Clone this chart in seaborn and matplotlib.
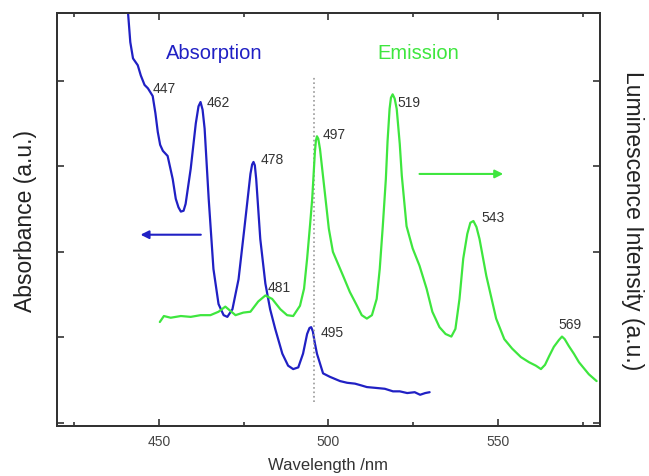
import pandas as pd
import matplotlib
matplotlib.use('Agg')
import matplotlib.pyplot as plt
import seaborn as sns
from matplotlib.ticker import MultipleLocator, NullFormatter

# Absorption spectrum (left axis, a.u.)
abs_nm = [440.6, 440.9, 441.6, 442.4, 443.8, 444.7, 445.8, 446.8, 448.2, 449.0,
          449.7, 450.4, 451.2, 452.6, 454.1, 455.0, 455.8, 456.5, 457.3, 457.9,
          459.4, 460.9, 461.7, 462.3, 462.9, 463.5, 464.7, 466.1, 467.6, 469.1,
          470.2, 471.7, 473.5, 475.2, 477.0, 477.5, 477.9, 478.3, 478.7, 479.9,
          481.4, 482.8, 484.3, 486.4, 488.1, 489.6, 491.1, 492.5, 493.7, 494.4,
          494.9, 495.4, 495.9, 496.6, 498.4, 500.4, 503.4, 505.5, 507.8, 509.6,
          511.3, 514.0, 516.6, 519.0, 521.0, 523.2, 525.4, 527.0, 528.5, 529.8]
abs_val = [5.19, 4.81, 4.45, 4.26, 4.18, 4.06, 3.95, 3.91, 3.82, 3.62,
           3.40, 3.25, 3.18, 3.12, 2.85, 2.62, 2.52, 2.47, 2.48, 2.56,
           2.97, 3.50, 3.70, 3.75, 3.66, 3.44, 2.62, 1.80, 1.39, 1.26,
           1.24, 1.33, 1.68, 2.27, 2.91, 3.02, 3.05, 3.01, 2.85, 2.15,
           1.63, 1.33, 1.10, 0.81, 0.67, 0.63, 0.65, 0.81, 1.04, 1.11,
           1.12, 1.07, 0.95, 0.81, 0.58, 0.54, 0.49, 0.47, 0.46, 0.44,
           0.42, 0.41, 0.40, 0.37, 0.37, 0.35, 0.36, 0.33, 0.35, 0.36]

# Emission spectrum (right axis, a.u.)
em_nm = [450.3, 451.5, 453.5, 456.5, 459.4, 462.3, 465.2, 467.6, 469.6, 471.1,
         472.6, 474.9, 477.0, 479.3, 481.4, 483.4, 485.8, 487.8, 489.6, 491.6,
         492.8, 493.7, 494.6, 495.2, 496.0, 496.3, 496.6, 497.0, 497.5, 498.9,
         500.1, 501.3, 504.3, 506.3, 508.4, 509.8, 511.3, 512.8, 514.2, 515.1,
         516.0, 516.9, 517.4, 518.0, 518.4, 518.9, 519.5, 520.1, 521.0, 521.6,
         523.0, 524.8, 526.8, 528.9, 530.6, 532.7, 534.5, 536.2, 537.4, 538.6,
         539.7, 540.9, 541.8, 542.7, 543.6, 544.5, 546.5, 549.4, 551.8, 554.1,
         556.7, 559.1, 561.1, 562.6, 563.8, 565.0, 566.4, 567.9, 568.8, 569.6,
         570.8, 572.3, 573.8, 576.7, 579.0]
em_val = [1.18, 1.25, 1.23, 1.25, 1.24, 1.26, 1.26, 1.30, 1.36, 1.31,
          1.26, 1.29, 1.30, 1.42, 1.49, 1.45, 1.33, 1.26, 1.25, 1.37,
          1.57, 1.92, 2.33, 2.62, 3.17, 3.30, 3.35, 3.32, 3.20, 2.70,
          2.27, 2.00, 1.72, 1.53, 1.37, 1.26, 1.22, 1.26, 1.45, 1.80,
          2.30, 2.85, 3.29, 3.67, 3.80, 3.84, 3.79, 3.67, 3.26, 2.89,
          2.30, 2.04, 1.84, 1.57, 1.30, 1.12, 1.04, 1.01, 1.10, 1.45,
          1.92, 2.21, 2.34, 2.36, 2.29, 2.15, 1.72, 1.22, 0.98, 0.87,
          0.77, 0.71, 0.67, 0.63, 0.68, 0.78, 0.89, 0.97, 1.01, 0.98,
          0.90, 0.81, 0.71, 0.57, 0.49]

# peak labels: (text, x, y)
abs_peaks = [('447', 448.2, 3.91), ('462', 464.1, 3.75), ('478', 479.9, 3.09),
             ('495', 497.8, 1.06)]
em_peaks = [('481', 482.0, 1.59), ('497', 498.4, 3.38), ('519', 520.4, 3.75),
            ('543', 545.0, 2.41), ('569', 567.9, 1.16)]

blue = '#2020c4'
green = '#3ee63e'

sns.set_style('ticks')
plt.rcParams['font.family'] = ['Liberation Sans', 'DejaVu Sans']

df_abs = pd.DataFrame({'nm': abs_nm, 'val': abs_val})
df_em = pd.DataFrame({'nm': em_nm, 'val': em_val})

fig = plt.figure(figsize=(6.49, 4.77), dpi=100)
ax = fig.add_axes([0.0878, 0.1048, 0.8367, 0.8658])
ax2 = ax.twinx()

sns.lineplot(data=df_abs, x='nm', y='val', ax=ax, color=blue, lw=1.6, sort=False,
             solid_joinstyle='round')
sns.lineplot(data=df_em, x='nm', y='val', ax=ax2, color=green, lw=1.6, sort=False,
             solid_joinstyle='round')

ylim = (-0.035, 4.79)
for a in (ax, ax2):
    a.set_xlim(420, 580)
    a.set_ylim(*ylim)
    a.yaxis.set_major_locator(MultipleLocator(1))
    a.yaxis.set_major_formatter(NullFormatter())
    for s in a.spines.values():
        s.set_color('#333333')
        s.set_linewidth(1.4)

ax.xaxis.set_major_locator(MultipleLocator(50))
ax.xaxis.set_minor_locator(MultipleLocator(25))
ax.tick_params(axis='x', which='both', direction='in', top=True, colors='#333333',
               labelcolor='#444444', labelsize=10, pad=6)
ax.tick_params(axis='x', which='major', length=5, width=1.2)
ax.tick_params(axis='x', which='minor', length=3, width=1.2)
ax.tick_params(axis='y', direction='in', length=5, width=1.2, colors='#333333')
ax2.tick_params(axis='y', direction='in', length=5, width=1.2, colors='#333333')

# dotted guide line
ax.plot([495.7, 495.7], [0.25, 4.06], ls=':', color='#999999', lw=1.2)

ax.set_xlabel('Wavelength /nm', fontsize=12, color='#333333', labelpad=6)
ax.set_ylabel('Absorbance (a.u.)', fontsize=16.5, color='#222222', labelpad=11)
ax2.set_ylabel('Luminescence Intensity (a.u.)', fontsize=16.5, color='#222222',
               rotation=270, labelpad=28)

ax.text(452.1, 4.33, 'Absorption', color=blue, fontsize=14.5, va='center')
ax.text(514.5, 4.33, 'Emission', color=green, fontsize=14.5, va='center')

for lbl, x, y in abs_peaks + em_peaks:
    ax.text(x, y, lbl, fontsize=10, color='#333333', va='center', ha='left')

ax.annotate('', xy=(443.8, 2.20), xytext=(463.2, 2.20),
            arrowprops=dict(arrowstyle='-|>', color=blue, lw=1.5, mutation_scale=12))
ax.annotate('', xy=(552.3, 2.91), xytext=(526.0, 2.91),
            arrowprops=dict(arrowstyle='-|>', color=green, lw=1.5, mutation_scale=12))

fig.savefig('out.png', dpi=100)
